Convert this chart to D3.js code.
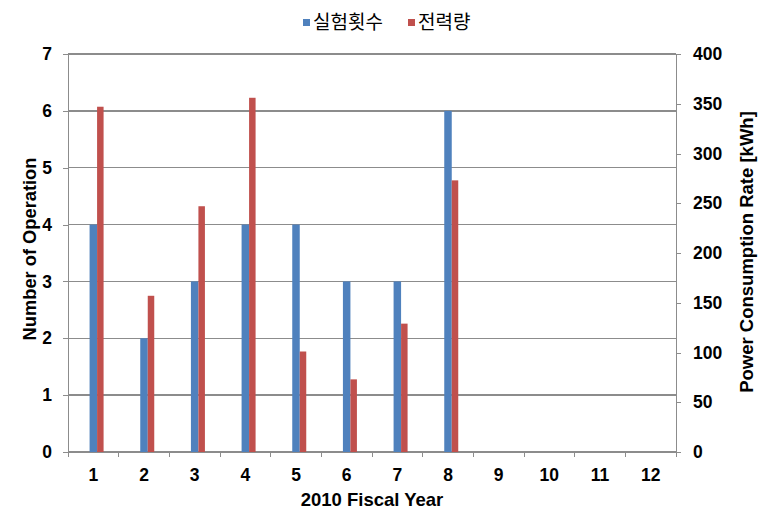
<!DOCTYPE html>
<html><head><meta charset="utf-8">
<script src="https://cdn.jsdelivr.net/npm/d3@7"></script>
<style>
html,body{margin:0;padding:0;background:#fff;}
svg text{font-family:"Liberation Sans",Arial,sans-serif;font-weight:bold;fill:#000;}
</style></head>
<body>
<svg id="c" width="771" height="526"></svg>
<script>
const categories = ["1","2","3","4","5","6","7","8","9","10","11","12"];
const operations = [4,2,3,4,4,3,3,6,null,null,null,null];
const power = [347,157,247,356,101,73,129,273,null,null,null,null];
const leftTicks = [0,1,2,3,4,5,6,7];
const rightTicks = [0,50,100,150,200,250,300,350,400];
const seriesNames = ["실험횟수","전력량"];
const colors = ["#4F81BD","#C0504D"];

const svg = d3.select("#c");
const L = 68, R = 676, T = 54, B = 452;
const x = d3.scaleBand().domain(categories).range([L,R]);
const yL = d3.scaleLinear().domain([0,7]).range([B,T]);
const yR = d3.scaleLinear().domain([0,400]).range([B,T]);

// gridlines
svg.append("g").selectAll("line").data(leftTicks).join("line")
  .attr("x1",L).attr("x2",R).attr("y1",d=>yL(d)).attr("y2",d=>yL(d))
  .attr("stroke","#8c8c8c").attr("stroke-width",1.3).attr("shape-rendering","crispEdges");

// left axis
const gl = svg.append("g").attr("transform",`translate(${L},0)`)
  .call(d3.axisLeft(yL).tickValues(leftTicks).tickSize(5).tickPadding(11).tickFormat(d3.format("d")));
// right axis
const gr = svg.append("g").attr("transform",`translate(${R},0)`)
  .call(d3.axisRight(yR).tickValues(rightTicks).tickSize(5).tickPadding(12).tickFormat(d3.format("d")));
// bottom axis
const gb = svg.append("g").attr("transform",`translate(0,${B})`)
  .call(d3.axisBottom(x).tickSize(0).tickPadding(17));
// band boundary ticks
svg.append("g").selectAll("line").data(d3.range(categories.length+1)).join("line")
  .attr("x1",i=>L+i*x.step()).attr("x2",i=>L+i*x.step()).attr("y1",B).attr("y2",B+5)
  .attr("stroke","#8c8c8c").attr("stroke-width",1).attr("shape-rendering","crispEdges");

[gl,gr,gb].forEach(g=>{
  g.selectAll("path.domain").attr("stroke","#8c8c8c").attr("stroke-width",1.3).attr("shape-rendering","crispEdges");
  g.selectAll(".tick line").attr("stroke","#8c8c8c").attr("shape-rendering","crispEdges");
  g.selectAll(".tick text").style("font-family","'Liberation Sans',Arial,sans-serif").style("font-weight","bold").style("font-size","17.5px").attr("fill","#000");
});
gb.select("path.domain").attr("d",`M${L},0.5H${R}`);

// bars
const bw1 = 7.5, bw2 = 6.5;
svg.append("g").selectAll("rect").data(categories.map((c,i)=>({c,v:operations[i]})).filter(d=>d.v!=null)).join("rect")
  .attr("x",d=>x(d.c)+x.bandwidth()/2-bw1/2).attr("width",bw1)
  .attr("y",d=>yL(d.v)).attr("height",d=>yL(0)-yL(d.v)).attr("fill",colors[0]);
svg.append("g").selectAll("rect").data(categories.map((c,i)=>({c,v:power[i]})).filter(d=>d.v!=null)).join("rect")
  .attr("x",d=>x(d.c)+x.bandwidth()/2+bw1/2).attr("width",bw2)
  .attr("y",d=>yR(d.v)).attr("height",d=>yR(0)-yR(d.v)).attr("fill",colors[1]);

// axis titles
svg.append("text").attr("transform",`translate(36,249) rotate(-90)`).attr("text-anchor","middle")
  .style("font-size","18.3px").text("Number of Operation");
svg.append("text").attr("transform",`translate(753,252) rotate(-90)`).attr("text-anchor","middle")
  .style("font-size","18.5px").text("Power Consumption Rate [kWh]");
svg.append("text").attr("x",(L+R)/2).attr("y",506).attr("text-anchor","middle")
  .style("font-size","18.5px").text("2010 Fiscal Year");

// legend
const leg = svg.append("g");
const lx = [303, 408];
seriesNames.forEach((n,i)=>{
  leg.append("rect").attr("x",lx[i]).attr("y",19).attr("width",7).attr("height",7).attr("fill",colors[i]);
  leg.append("text").attr("x",lx[i]+10).attr("y",29)
    .style("font-family","'Noto Sans CJK KR',sans-serif").style("font-weight","normal").style("font-size","19px").text(n);
});
</script>
</body></html>
